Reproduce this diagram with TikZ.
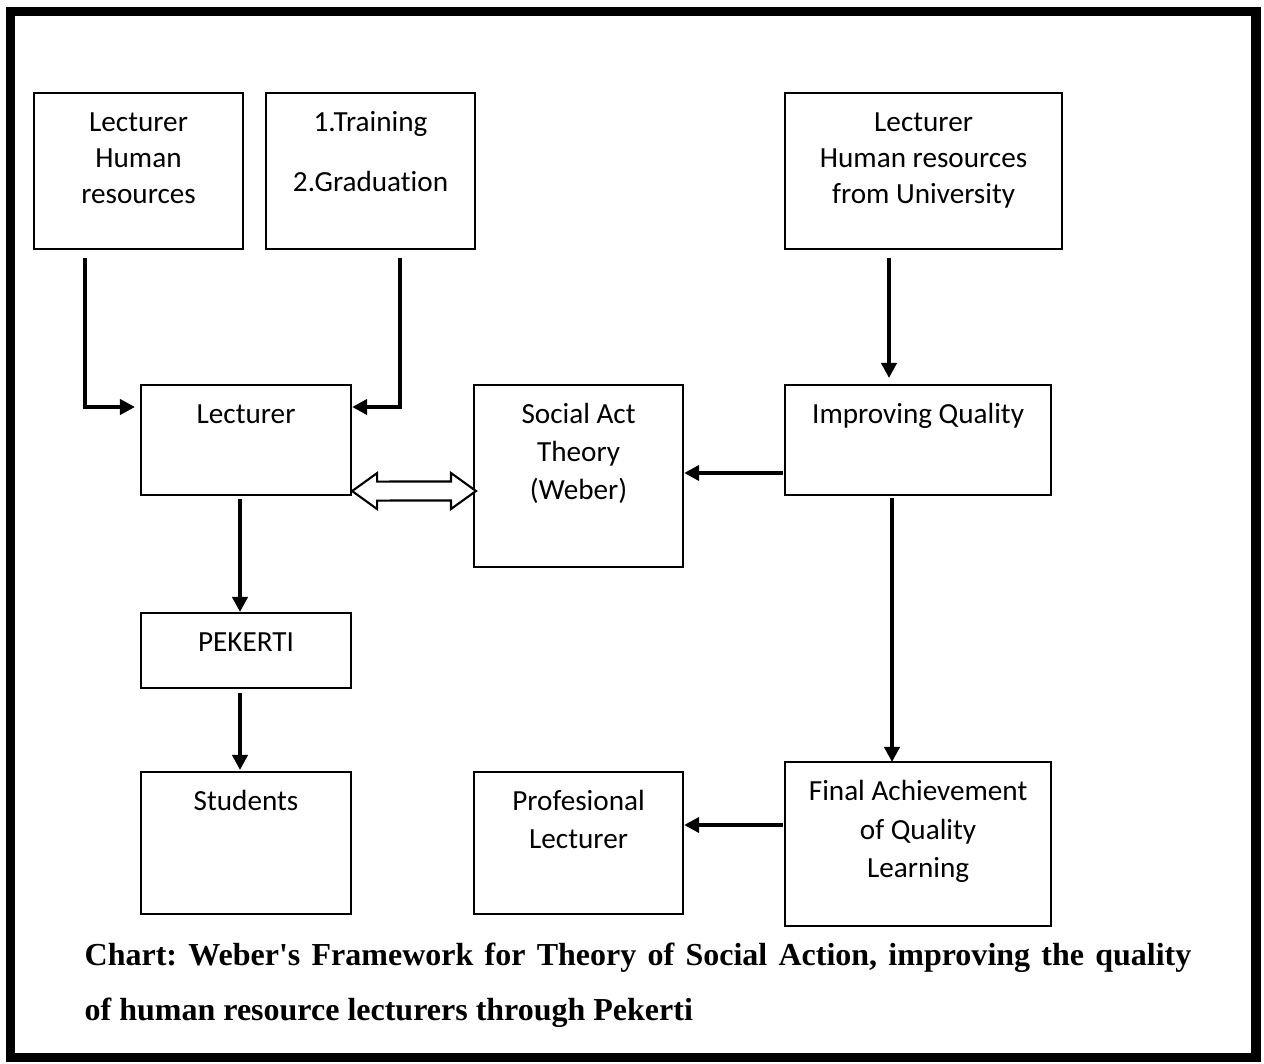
\documentclass[tikz,border=0pt]{standalone}
\usepackage{fontspec}
\newfontfamily\carlito[Ligatures=NoCommon]{Carlito}
\newfontfamily\timesfont{Liberation Serif}
\usetikzlibrary{arrows.meta,calc}

% text of a box: top aligned, first baseline 0.385cm below the top
\newcommand{\boxtext}[3]{\parbox[t][#2][t]{#1}{\centering\rule{0pt}{0.385cm}#3}}

\tikzset{
  box/.style={draw, line width=0.6pt, inner sep=0pt, outer sep=0pt, anchor=north west,
    font=\carlito\fontsize{8.3}{10.2}\selectfont},
  arr/.style={line width=1.3pt, -{Triangle[length=0.15cm,width=0.15cm]}}
}

\begin{document}
\begin{tikzpicture}[x=0.01cm,y=-0.01cm]

    \useasboundingbox (0,0) rectangle (1264,1064);

	% Frame
	\draw[line width=2.6pt] (10.5,11.5) rectangle (1256,1057.5);

	% Boxes - top row
	\node[box] (lhr) at (34,93) {\boxtext{2.09cm}{1.56cm}{Lecturer\\Human\\resources}};
	\node[box] (trg) at (266,93) {\boxtext{2.09cm}{1.56cm}{1.Training\\[6.9pt]2.Graduation}};
	\node[box] (lhru) at (785,93) {\boxtext{2.77cm}{1.56cm}{Lecturer\\Human resources\\from University}};

	% Boxes - middle row
	\node[box] (lect) at (141,385) {\boxtext{2.10cm}{1.10cm}{Lecturer}};
	\node[box] (sat) at (474,385) {\boxtext{2.09cm}{1.82cm}{Social Act\\[0.6pt]Theory\\[0.6pt](Weber)}};
	\node[box] (iq) at (785,385) {\boxtext{2.66cm}{1.10cm}{Improving Quality}};

	% Boxes - lower rows
	\node[box] (pek) at (141,613) {\boxtext{2.10cm}{0.75cm}{PEKERTI}};
	\node[box] (stu) at (141,772) {\boxtext{2.10cm}{1.42cm}{Students}};
	\node[box] (pl) at (474,772) {\boxtext{2.09cm}{1.42cm}{Profesional\\[0.6pt]Lecturer}};
	\node[box] (fa) at (785,762) {\boxtext{2.66cm}{1.64cm}{Final Achievement\\[0.8pt]of Quality\\[0.8pt]Learning}};

	% Arrows
	\draw[arr] ($(lhr.south west)+(51,9)$) |- ($(lect.north west)+(-6,22)$);
	\draw[arr] ($(trg.south west)+(134,9)$) |- ($(lect.north east)+(1,22)$);
	\draw[arr] ($(lhru.south west)+(104,9)$) -- ($(iq.north west)+(104,-7)$);
	\draw[arr] ($(iq.north west)+(-2,88)$) -- ($(sat.north east)+(1,88)$);
	\draw[arr] ($(iq.south west)+(107,3)$) -- ($(fa.north west)+(107,0)$);
	\draw[arr] ($(fa.north west)+(-2,63)$) -- ($(pl.north east)+(1,53)$);
	\draw[arr] ($(lect.south west)+(99,4)$) -- ($(pek.north west)+(99,-1)$);
	\draw[arr] ($(pek.south west)+(99,5)$) -- ($(stu.north west)+(99,-2)$);

	% Double arrow between Lecturer and Social Act Theory
	\coordinate (dL) at ($(lect.south east)+(1,-4)$);
	\coordinate (dR) at ($(sat.north west)+(2,106)$);
	\draw[line width=0.6pt, fill=white] (dL) -- ++(25,-18) -- ++(0,8.5) -- ($(dR)+(-25,-9.5)$)
	    -- ++(0,-8.5) -- (dR) -- ++(-25,18) -- ++(0,-8.5) -- ($(dL)+(25,9.5)$) -- ++(0,8.5) -- cycle;

	% Caption
	\node[anchor=base west, text width=11.06cm, align=justify, inner sep=0pt,
	    font=\timesfont\bfseries\fontsize{9.1}{15.65}\selectfont\frenchspacing] (cap) at (84,965)
	    {Chart: Weber's Framework for Theory of Social Action, improving the quality\linebreak
	     of human resource lecturers through Pekerti};

\end{tikzpicture}
\end{document}
